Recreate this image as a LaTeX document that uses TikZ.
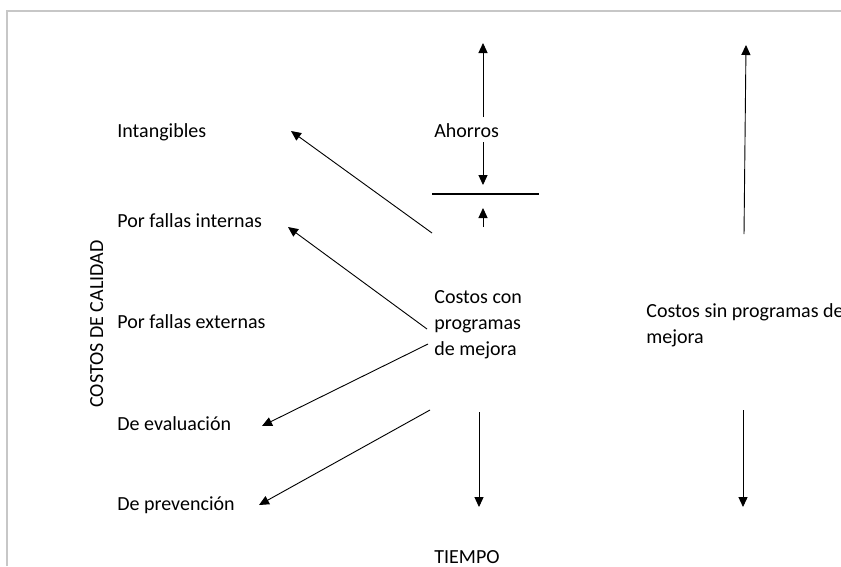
\documentclass[tikz,border=0pt]{standalone}
\usepackage{fontspec}
\setmainfont{Carlito}
\usetikzlibrary{arrows.meta, positioning}
\colorlet{framegray}{black!22}

\begin{document}
\begin{tikzpicture}[
  x = 0.55pt, y = -0.55pt,
  font = \fontsize{11pt}{14.3pt}\selectfont,
  %
  % ── Node styles ─────────────────────────────────────────────────
  lbl/.style     = {inner sep=0pt, anchor=base west, align=left},
  axislbl/.style = {inner sep=0pt, anchor=base, rotate=90},
  arrow/.style   = {-{Triangle[length=5.5pt, width=5pt]}, line width=0.5pt},
  tick/.style    = {line width=0.6pt},
  frame/.style   = {draw=framegray, line width=0.6pt},
]

\useasboundingbox (0,0) rectangle (841,566);

%% ═══════════════════════════════════════════════════════════════════
%% Page frame (top and left edges only)
%% ═══════════════════════════════════════════════════════════════════
\draw[frame] (7,566) -- (7,11) -- (841,11);

%% ═══════════════════════════════════════════════════════════════════
%% LEFT — cost categories and axis label
%% ═══════════════════════════════════════════════════════════════════
\node[lbl] (cat-intang) at (117,137) {Intangibles};
\node[lbl] (cat-int)    at (117,227) {Por fallas internas};
\node[lbl] (cat-ext)    at (117,328) {Por fallas externas};
\node[lbl] (cat-eval)   at (117,430) {De evaluación};
\node[lbl] (cat-prev)   at (117,510) {De prevención};

\node[axislbl] (axis-cost) at (103,324) {COSTOS DE CALIDAD};

%% ═══════════════════════════════════════════════════════════════════
%% MIDDLE — costs with improvement programmes
%%   (multi-line labels sit on the baseline of their last line)
%% ═══════════════════════════════════════════════════════════════════
\node[lbl] (sav)  at (434,137) {Ahorros};
\node[lbl] (with) at (434,355) {Costos con\\programas\\de mejora};
\node[lbl] (axis-time) at (434,563) {TIEMPO};

% arrow ends
\coordinate (sav-up-from)   at (483,117);
\coordinate (sav-up-to)     at (483,43);
\coordinate (sav-dn-from)   at (483,142);
\coordinate (sav-dn-to)     at (483,185);
\coordinate (lvl-l)         at (432,194);
\coordinate (lvl-r)         at (539,194);
\coordinate (lvl-up-from)   at (483,227);
\coordinate (lvl-up-to)     at (483,208);
\coordinate (with-dn-from)  at (479,412);
\coordinate (with-dn-to)    at (479,507);

\coordinate (to-intang-from) at (432,233);
\coordinate (to-intang)      at (291,131);
\coordinate (to-int-from)    at (427,329);
\coordinate (to-int)         at (288,227);
\coordinate (to-eval-from)   at (428,344);
\coordinate (to-eval)        at (262,426);
\coordinate (to-prev-from)   at (430,410);
\coordinate (to-prev)        at (259,505);

%% ── Arrows ───────────────────────────────────────────────────────
\draw[arrow] (sav-up-from) -- (sav-up-to);
\draw[arrow] (sav-dn-from) -- (sav-dn-to);
\draw[tick]  (lvl-l) -- (lvl-r);
\draw[arrow] (lvl-up-from) -- (lvl-up-to);
\draw[arrow] (with-dn-from) -- (with-dn-to);

\draw[arrow] (to-intang-from) -- (to-intang);
\draw[arrow] (to-int-from)    -- (to-int);
\draw[arrow] (to-eval-from)   -- (to-eval);
\draw[arrow] (to-prev-from)   -- (to-prev);

%% ═══════════════════════════════════════════════════════════════════
%% RIGHT — costs without improvement programmes
%% ═══════════════════════════════════════════════════════════════════
\node[lbl] (without) at (646,343) {Costos sin programas de\\mejora};

\coordinate (wo-up-from) at (744,234);
\coordinate (wo-up-to)   at (746,45);
\coordinate (wo-dn-from) at (743,410);
\coordinate (wo-dn-to)   at (743,507);

%% ── Arrows ───────────────────────────────────────────────────────
\draw[arrow] (wo-up-from) -- (wo-up-to);
\draw[arrow] (wo-dn-from) -- (wo-dn-to);

\end{tikzpicture}
\end{document}
